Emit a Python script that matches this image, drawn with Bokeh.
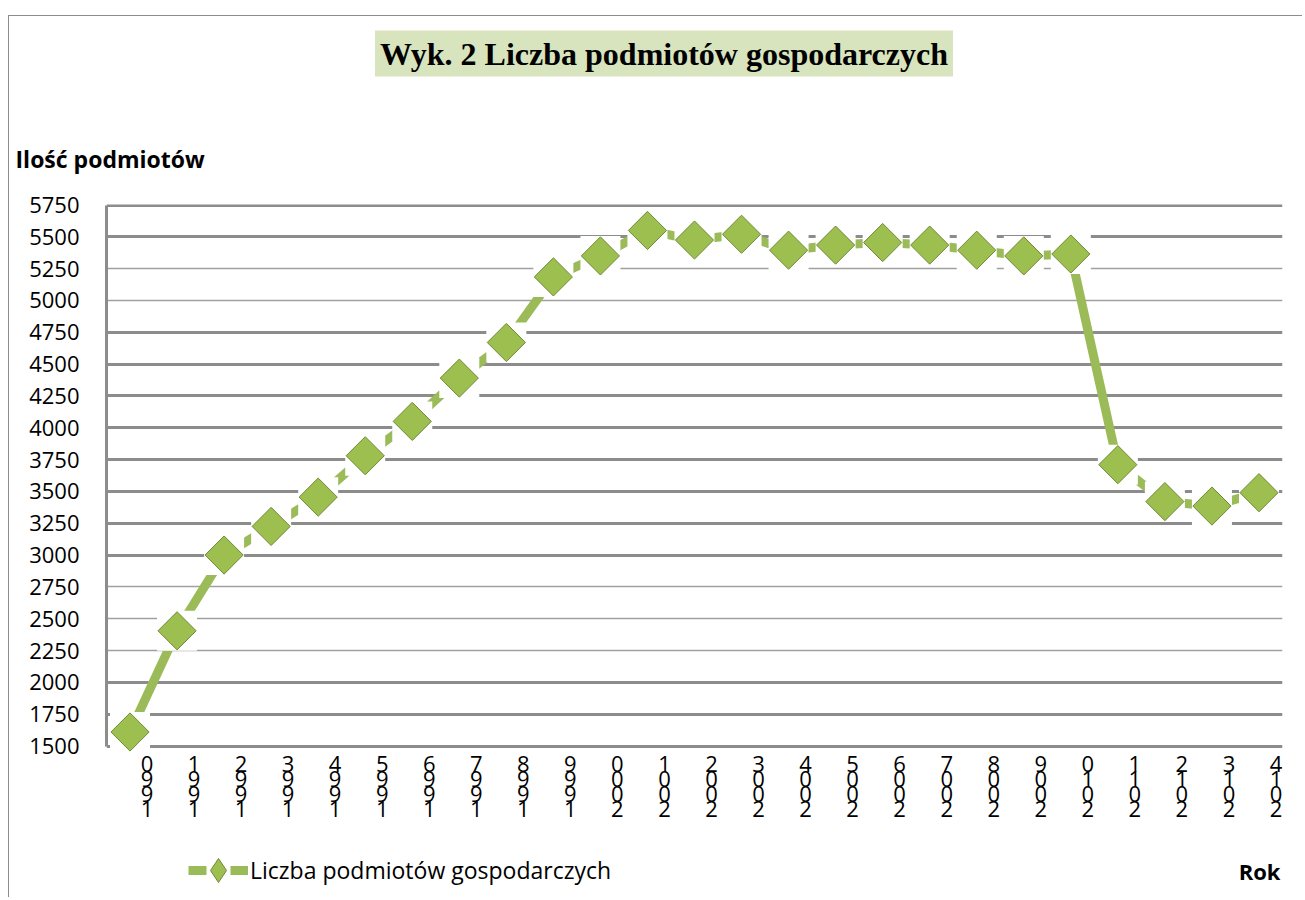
import numpy as np
from bokeh.plotting import figure
from bokeh.models import Range1d, FixedTicker, LinearAxis, Label, Legend, LegendItem, Grid
from bokeh.embed import file_html
from bokeh.resources import INLINE

# ---- data ----
years = list(range(1990, 2015))
values = [1610, 2405, 3000, 3225, 3455, 3780, 4050, 4390, 4670, 5185,
          5350, 5550, 5475, 5520, 5395, 5435, 5455, 5435, 5395, 5350,
          5365, 3710, 3420, 3385, 3490]
y_ticks = list(range(1500, 5751, 250))
thick_grid = [1500, 1750, 2000, 3000, 3250, 3500, 3750, 4000, 4250, 4500, 4750, 5500, 5750]
thin_grid = [2250, 2500, 2750, 5000, 5250]
year_labels = {y: "\n".join(reversed(str(y))) for y in years}

title_text = "Wyk. 2 Liczba podmiotów gospodarczych"
series_name = "Liczba podmiotów gospodarczych"
y_title = "Ilość podmiotów"
x_title = "Rok"

GREEN = "#9BBB59"
DIA_FILL = "#9cbf50"
DIA_LINE = "#6f8c35"
GRID = "#8c8c8c"
FONT = "Open Sans"

# ---- layout geometry (pixels) ----
W, H = 1294, 882          # canvas size (canvas starts at page 9,16)
FRAME_TOP_PAD = 188       # canvas top -> plot top (value 5750)
PLOT_H = 541              # pixel height of 1500..5750
Y_MIN, Y_MAX = y_ticks[0], y_ticks[-1]
k = PLOT_H / (Y_MAX - Y_MIN)            # px per unit
y_end = Y_MAX + 0.5 / k
frame_h = H - FRAME_TOP_PAD
y_start = y_end - frame_h / k           # frame continues down to canvas bottom

p = figure(width=W, height=H,
           x_range=Range1d(1989.5, 2014.5), y_range=Range1d(y_start, y_end),
           output_backend="svg", toolbar_location=None,
           x_axis_location=None, title=None,
           min_border_left=97, min_border_right=21,
           min_border_top=FRAME_TOP_PAD, min_border_bottom=0)
p.outline_line_color = None
p.background_fill_color = "white"
p.border_fill_color = "white"
p.styles = {"margin-left": "8px", "margin-top": "15px",
            "border-top": "1px solid #8c8c8c", "border-left": "1px solid #8c8c8c"}

# grids
p.xgrid.visible = False
p.ygrid.ticker = FixedTicker(ticks=thick_grid)
p.ygrid.grid_line_color = GRID
p.ygrid.grid_line_width = 3
thin = Grid(dimension=1, ticker=FixedTicker(ticks=thin_grid),
            grid_line_color="#a0a0a0", grid_line_width=1.5)
p.add_layout(thin)

# y axis
ya = p.yaxis[0]
ya.ticker = FixedTicker(ticks=y_ticks)
ya.bounds = (Y_MIN, Y_MAX)
ya.axis_line_color = GRID
ya.axis_line_width = 3
ya.major_tick_in = 0
ya.major_tick_out = 0
ya.minor_tick_in = 0
ya.minor_tick_out = 0
ya.major_label_standoff = 27
ya.major_label_text_font = FONT
ya.major_label_text_font_size = "22px"
ya.major_label_text_color = "black"

# x axis fixed at the bottom of the value range; labels shifted slightly right
shift = 0.361
p.extra_x_ranges = {"lab": Range1d(1989.5 - shift, 2014.5 - shift)}
xa = LinearAxis(x_range_name="lab", ticker=FixedTicker(ticks=years),
                major_label_overrides=year_labels, fixed_location=Y_MIN)
xa.axis_line_color = None
xa.major_tick_in = 0
xa.major_tick_out = 0
xa.minor_tick_in = 0
xa.minor_tick_out = 0
xa.major_label_standoff = 2
xa.major_label_text_font = FONT
xa.major_label_text_font_size = "22px"
xa.major_label_text_color = "black"
xa.major_label_text_line_height = 0.5
p.add_layout(xa, "below")

# series
line_r = p.line(years, values, line_color=GREEN, line_width=9)
# legend sample glyphs (tiny, hidden under the real markers drawn afterwards)
leg_gap = p.scatter(years, values, marker="square", size=1,
                    fill_color="white", line_color=None)
leg_dia = p.scatter(years, values, marker="diamond", size=1,
                    fill_color=DIA_FILL, line_color=DIA_LINE, line_width=1)
# real markers: white box around each point, then the diamond
p.scatter(years, values, marker="square", size=40, fill_color="white", line_color=None)
p.scatter(years, values, marker="square", angle=np.pi / 4, size=27,
          fill_color=DIA_FILL, line_color=DIA_LINE, line_width=1)

# top texts in the side panel above the plot (positions relative to the plot top)
H1 = 29.5
lab_y = Label(x=-91, y=46, x_units="screen", y_units="screen",
              text=y_title, text_font=FONT, text_font_style="bold",
              text_font_size="23px", text_align="left", text_baseline="middle",
              text_color="black")
lab_t = Label(x=557.5, y=148.5 - H1, x_units="screen", y_units="screen",
              text=title_text, text_font="Liberation Serif", text_font_style="bold",
              text_font_size="32px", text_align="center", text_baseline="middle",
              background_fill_color="#D7E4BD", padding=5, text_color="black")
p.add_layout(lab_y, "above")
p.add_layout(lab_t, "above")

# bottom texts inside the (extended) frame, relative to the canvas bottom
p.add_layout(Label(x=1174, y=28, x_units="screen", y_units="screen",
                   text=x_title, text_font=FONT, text_font_style="bold",
                   text_font_size="22px", text_align="right", text_baseline="middle",
                   text_color="black"))

legend = Legend(items=[LegendItem(label=series_name, renderers=[line_r, leg_gap, leg_dia])],
                location=(82, -2), orientation="horizontal",
                glyph_width=60, glyph_height=60, label_standoff=2,
                padding=0, margin=0, spacing=0,
                border_line_color=None, background_fill_alpha=0,
                label_text_font=FONT, label_text_font_size="23px",
                label_text_color="black")
p.add_layout(legend, "center")

open("out.html", "w").write(file_html(p, INLINE))
